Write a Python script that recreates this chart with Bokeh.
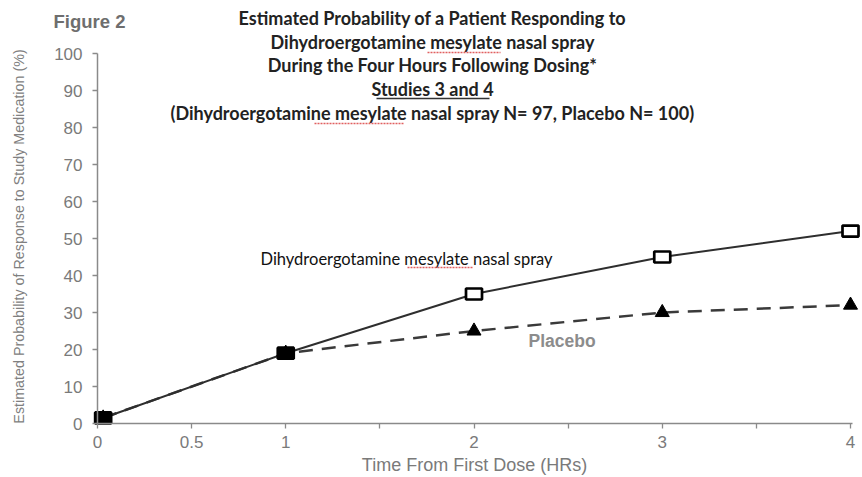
import math
from bokeh.plotting import figure
from bokeh.models import Range1d, FixedTicker, CustomJSTickFormatter, Label, Arrow
from bokeh.embed import file_html
from bokeh.resources import INLINE

# ---- data ----
hours = [0.03, 1, 2, 3, 4]
dhe_response = [1.5, 19, 35, 45, 52]
placebo_response = [1.5, 19, 25, 30, 32]
x_ticks = [0, 0.5, 1, 1.5, 2, 2.5, 3, 3.5, 4]
x_tick_labels = ["0", "0.5", "1", "", "2", "", "3", "", "4"]
y_ticks = [0, 10, 20, 30, 40, 50, 60, 70, 80, 90, 100]
title_lines = [
    "Estimated Probability of a Patient Responding to",
    "Dihydroergotamine mesylate nasal spray",
    "During the Four Hours Following Dosing*",
    "Studies 3 and 4",
    "(Dihydroergotamine mesylate nasal spray N= 97, Placebo N= 100)",
]
series_names = ["Dihydroergotamine mesylate nasal spray", "Placebo"]
x_title = "Time From First Dose (HRs)"
y_title = "Estimated Probability of Response to Study Medication (%)"

# ---- layout: canvas pixels -> data units ----
W, H = 862, 477
X0_PX, X_PER_H = 97, 188.25      # x=0 at px 97, 188.25 px per hour
Y0_PX, Y_PER_PCT = 423, 3.7      # y=0 at px 423, 3.7 px per percent

def dx(px):
    return (px - X0_PX) / X_PER_H

def dy(py):
    return (Y0_PX - py) / Y_PER_PCT

GRAY = "#8a8a8a"
TXT_GRAY = "#7a7a7a"

p = figure(width=W, height=H,
           x_range=Range1d(dx(0), dx(W)), y_range=Range1d(dy(H), dy(0)),
           output_backend="svg", toolbar_location=None, min_border=0)
p.outline_line_color = None
p.xgrid.visible = False
p.ygrid.visible = False
p.background_fill_color = "white"
p.border_fill_color = "white"

for ax in (p.xaxis[0], p.yaxis[0]):
    ax.fixed_location = 0
    ax.axis_line_color = GRAY
    ax.axis_line_width = 1.5
    ax.major_tick_line_color = GRAY
    ax.major_tick_line_width = 1.3
    ax.major_tick_in = 0
    ax.major_tick_out = 5
    ax.minor_tick_line_color = None
    ax.major_label_text_color = TXT_GRAY
    ax.major_label_text_font = "Liberation Sans"
    ax.major_label_text_font_size = "17px"

p.xaxis.bounds = (0, 4.01)
p.xaxis.ticker = FixedTicker(ticks=x_ticks)
p.xaxis.formatter = CustomJSTickFormatter(
    args=dict(xt=x_ticks, xl=x_tick_labels),
    code="const i = xt.indexOf(tick); return i < 0 ? '' : xl[i];")
p.xaxis.major_label_standoff = 7

p.yaxis.bounds = (0, 100)
p.yaxis.ticker = FixedTicker(ticks=y_ticks)
p.yaxis.major_label_standoff = 10

# where both series coincide the square marker appears solid
square_fill = ["black" if a == b else "white" for a, b in zip(dhe_response, placebo_response)]

# lines
p.line(hours, placebo_response, line_color="#3a3a3a", line_width=2.5, line_dash="14 9")
p.line(hours, dhe_response, line_color="#2e2e2e", line_width=2)
# markers
p.rect(hours, dhe_response, width=16, height=11, width_units="screen", height_units="screen",
       fill_color=square_fill, line_color="black", line_width=2.7)
p.scatter(hours, placebo_response, marker="triangle", size=14, fill_color="black", line_color="black")

# axis titles
p.add_layout(Label(x=dx(474), y=dy(464), text=x_title, text_align="center", text_baseline="middle",
                   text_font="Liberation Sans", text_font_size="18px", text_color=TXT_GRAY))
p.add_layout(Label(x=dx(18), y=dy(236), text=y_title, angle=math.pi / 2,
                   text_align="center", text_baseline="middle",
                   text_font="Liberation Sans", text_font_size="14.3px", text_color="#808080"))

# series labels
p.add_layout(Label(x=dx(260), y=dy(258), text=series_names[0], text_align="left", text_baseline="middle",
                   text_font="Lato", text_font_size="16.5px", text_color="#111111"))
p.add_layout(Label(x=dx(528), y=dy(340), text=series_names[1], text_align="left", text_baseline="middle",
                   text_font="Liberation Sans", text_font_style="bold", text_font_size="17.5px",
                   text_color="#8c8c8c"))

# title block
title_px_y = [17, 41, 64, 88, 112]
for txt, ty in zip(title_lines, title_px_y):
    p.add_layout(Label(x=dx(432), y=dy(ty), text=txt, text_align="center", text_baseline="middle",
                       text_font="Lato", text_font_style="bold", text_font_size="18px",
                       text_color="#222222"))
p.add_layout(Label(x=dx(53), y=dy(21), text="Figure 2", text_align="left", text_baseline="middle",
                   text_font="Liberation Sans", text_font_style="bold", text_font_size="18.5px",
                   text_color="#6e6e6e"))

# underline of "Studies 3 and 4"
p.add_layout(Arrow(start=None, end=None, x_start=dx(376), y_start=dy(98), x_end=dx(489), y_end=dy(98),
                   line_color="#333333", line_width=1.4))
# spell-check squiggles under "mesylate"
for xs, xe, yy in [(427, 500, 52), (314, 404, 123), (407, 472, 267)]:
    p.add_layout(Arrow(start=None, end=None, x_start=dx(xs), y_start=dy(yy), x_end=dx(xe), y_end=dy(yy),
                       line_color="#e06060", line_width=1.3, line_dash="2 1"))

open("out.html", "w").write(file_html(p, INLINE))
